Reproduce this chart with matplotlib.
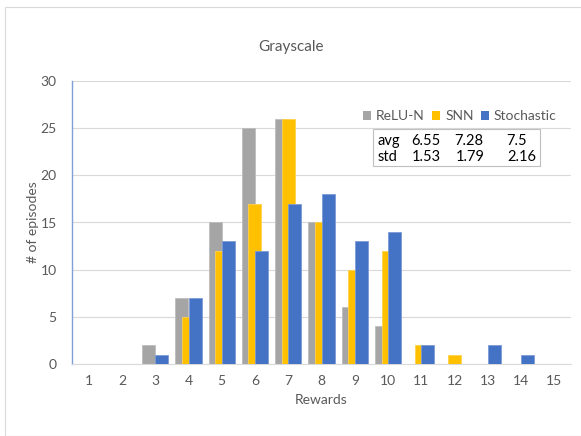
import matplotlib
matplotlib.use("Agg")
import matplotlib.pyplot as plt
from matplotlib.patches import Patch, Rectangle
import numpy as np

plt.rcParams['font.family'] = ['Lato', 'DejaVu Sans']

rewards = list(range(1, 16))
relu_n = [0, 0, 2, 7, 15, 25, 26, 15, 6, 4, 0, 0, 0, 0, 0]
snn = [0, 0, 0, 5, 12, 17, 26, 15, 10, 12, 2, 1, 0, 0, 0]
stochastic = [0, 0, 1, 7, 13, 12, 17, 18, 13, 14, 2, 0, 2, 1, 0]
series_names = ["ReLU-N", "SNN", "Stochastic"]
y_ticks = [0, 5, 10, 15, 20, 25, 30]

colors = ["#A5A5A5", "#FFC000", "#4472C4"]
edge_colors = ["#BDBDBD", "#FFD24D", "#7C9BD6"]
text_color = "#595959"

W, H = 581, 436
fig = plt.figure(figsize=(W / 100, H / 100), dpi=100)

# outer chart frame (only the top and left edges are inside the canvas)
fig.patches.append(Rectangle((5 / W, 0), 1.2, 1 - 7 / H, transform=fig.transFigure,
                             fill=False, edgecolor="#D9D9D9", linewidth=0.8))

ax = fig.add_axes([72 / W, (H - 364) / H, (571 - 72) / W, (364 - 81) / H])

x = np.array(rewards, dtype=float)
width = 0.39
offsets = [-0.2, 0.0, 0.2]
for vals, off, c, ec, z in zip([relu_n, snn, stochastic], offsets, colors, edge_colors, [2, 3, 4]):
    ax.bar(x + off, vals, width=width, color=c, edgecolor=ec, linewidth=0.6, zorder=z)

ax.set_xlim(0.5, 15.5)
ax.set_ylim(0, 30)
ax.set_yticks(y_ticks)
ax.set_xticks(rewards)
ax.set_xticklabels([str(r) for r in rewards])
ax.yaxis.grid(True, color="#D9D9D9", linewidth=0.8, zorder=0)
ax.set_axisbelow(True)
for s in ["top", "right"]:
    ax.spines[s].set_visible(False)
ax.spines["left"].set_color("#7EA0DA")
ax.spines["left"].set_linewidth(1.0)
ax.spines["bottom"].set_color("#D9D9D9")
ax.spines["bottom"].set_linewidth(0.8)
ax.tick_params(length=0, labelsize=10, colors=text_color, pad=8)
ax.tick_params(axis='y', pad=11)

ax.set_xlabel("Rewards", fontsize=10, color=text_color, labelpad=5)
ax.set_ylabel("# of episodes", fontsize=10, color=text_color, labelpad=1)
fig.text(291 / W, 1 - 47 / H, "Grayscale", ha="center", va="center",
         fontsize=11, color=text_color)

handles = [Patch(facecolor=c, edgecolor="none") for c in colors]
fig.legend(handles, series_names, loc="center right", ncol=3,
           bbox_to_anchor=(569 / W, 1 - 116 / H), frameon=False,
           fontsize=10, handlelength=0.6, handleheight=0.6, handletextpad=0.35,
           columnspacing=0.5, labelcolor=text_color)

# summary statistics box
def fmt(v):
    return f"{round(v, 2):g}"

stats_avg, stats_std = [], []
for vals in [relu_n, snn, stochastic]:
    v = np.array(vals, dtype=float)
    m = (x * v).sum() / v.sum()
    sd = np.sqrt(((x - m) ** 2 * v).sum() / v.sum())
    stats_avg.append(fmt(m))
    stats_std.append(fmt(sd))

fig.patches.append(Rectangle((373 / W, 1 - 166 / H), (540 - 373) / W, (166 - 129) / H,
                             transform=fig.transFigure, fill=False,
                             edgecolor="#BFBFBF", linewidth=0.8))
col_x = [[411, 454, 506], [412, 456, 507]]
for row, (lab, vals, cx, yy) in enumerate(zip(["avg", "std"], [stats_avg, stats_std],
                                              col_x, [141, 157])):
    fig.text(378 / W, 1 - yy / H, lab, ha="left", va="center", fontsize=10.5, color="black")
    for v, xx in zip(vals, cx):
        fig.text(xx / W, 1 - yy / H, v, ha="left", va="center", fontsize=10.5, color="black")

fig.savefig("out.png", dpi=100)
